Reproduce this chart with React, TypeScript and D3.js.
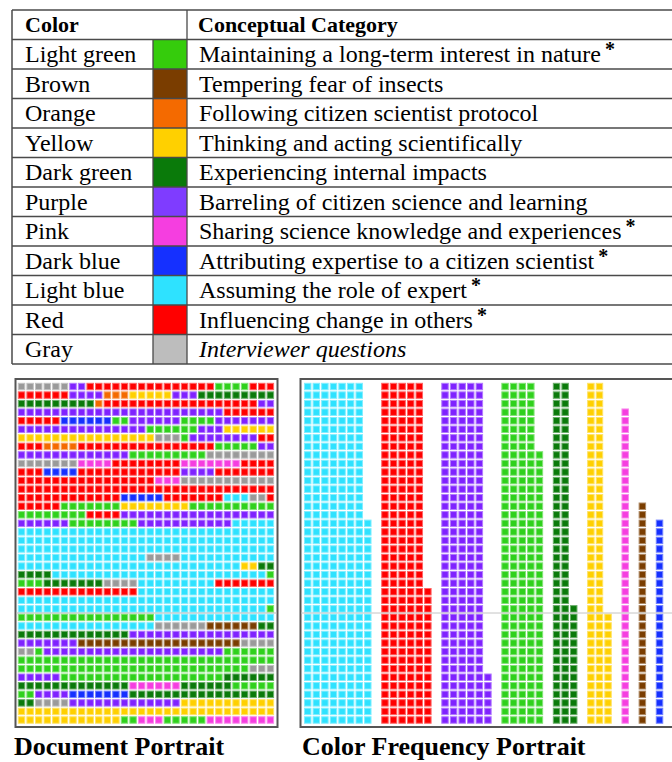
import React from 'react';
import * as d3 from 'd3';

// ---------- legend table data ----------
const colorKeys = ['G', 'B', 'O', 'Y', 'D', 'P', 'K', 'N', 'C', 'R', 'X'];
const colorNames = ['Light green', 'Brown', 'Orange', 'Yellow', 'Dark green', 'Purple', 'Pink', 'Dark blue', 'Light blue', 'Red', 'Gray'];
const categoryLabels = [
  'Maintaining a long-term interest in nature',
  'Tempering fear of insects',
  'Following citizen scientist protocol',
  'Thinking and acting scientifically',
  'Experiencing internal impacts',
  'Barreling of citizen science and learning',
  'Sharing science knowledge and experiences',
  'Attributing expertise to a citizen scientist',
  'Assuming the role of expert',
  'Influencing change in others',
  'Interviewer questions',
];
const starred = [true, false, false, false, false, false, true, true, true, true, false];
const headerLabels = ['Color', 'Conceptual Category'];
const titles = ['Document Portrait', 'Color Frequency Portrait'];

// ---------- document portrait: 40 rows x 30 cells, run-length (code+count) ----------
const docRows = [
  'X6 P2 R15 G4 R3',
  'R6 P4 O3 Y5 P3 D9',
  'D9 O1 R18 P2',
  'P24 R6',
  'R5 N6 G2 P6 G4 P7',
  'P15 G6 P3 Y6',
  'Y16 X3 G1 P8 R2',
  'R3 O4 R16 G5 P2',
  'P13 G9 X8',
  'X7 K4 R8 K7 R4',
  'R3 N4 R12 P4 R7',
  'R16 K3 X11',
  'R30',
  'R12 N5 R7 C3 X2 R1',
  'R5 G7 Y8 G10',
  'G8 R4 P18',
  'P6 G8 P11 C5',
  'C30',
  'C30',
  'C30',
  'C15 X4 C11',
  'C26 Y2 D2',
  'D4 C25 G1',
  'G3 D7 X4 C9 R7',
  'R14 C16',
  'C30',
  'C29 G1',
  'G16 C14',
  'C16 X6 B6 D2',
  'D13 P17',
  'P7 B19 X4',
  'X2 G1 P21 G6',
  'G30',
  'G27 X3',
  'P5 G19 D6',
  'D13 K6 D6 G5',
  'G2 P4 N7 D17',
  'D2 X4 P13 Y11',
  'Y30',
  'Y12 G2 K3 G5 K8',
];

// ---------- color frequency portrait ----------
const freqKeys = ['C', 'R', 'P', 'G', 'D', 'Y', 'K', 'B', 'N'];
const freqCounts = [304, 216, 206, 192, 94, 93, 37, 26, 24];

// ---------- styles ----------
const palette: Record<string, string> = {
  G: '#2fd11c',
  B: '#7a3d00',
  O: '#f46a00',
  Y: '#ffd000',
  D: '#0a7a0a',
  P: '#7f22ff',
  K: '#f53ee0',
  N: '#1530ff',
  C: '#2ee2ff',
  R: '#ff0000',
  X: '#9a9a9a',
};
const swatchPalette: Record<string, string> = { ...palette, X: '#bdbdbd', G: '#35cc0c', P: '#7f3cff' };

const W = 672;
const H = 762;
const NROWS = 40;
const NCOLS = 30;
const PITCH = 8.58;
const serif = "'Liberation Serif', 'Times New Roman', serif";

function decodeRow(s: string): string[] {
  const out: string[] = [];
  s.split(' ').forEach((tok) => {
    const k = tok[0];
    const n = parseInt(tok.slice(1), 10);
    for (let i = 0; i < n; i++) out.push(k);
  });
  return out;
}

const tint = (c: string) => d3.interpolateRgb(c, '#ffffff')(0.4);

function Cell({ x, y, k }: { x: number; y: number; k: string }) {
  const c = palette[k];
  return <rect x={x + 1} y={y + 1} width={PITCH - 2.1} height={PITCH - 2.1} fill={c} stroke={tint(c)} strokeWidth={1} />;
}

export default function App() {
  // table scales
  const rowY = d3.scaleLinear().domain([0, 12]).range([10, 364]);
  const tableLeft = 12;
  const swatchL = 153;
  const swatchR = 187;
  const tableRight = 700;

  // document portrait scales
  const dx = d3.scaleLinear().domain([0, NCOLS]).range([17.3, 17.3 + NCOLS * PITCH]);
  const dy = d3.scaleLinear().domain([0, NROWS]).range([382.3, 724.3]);
  // frequency portrait scale (column index)
  const fx = d3.scaleLinear().domain([0, 1]).range([303.5, 303.5 + PITCH]);

  const docCells: JSX.Element[] = [];
  docRows.forEach((r, ri) => {
    decodeRow(r).forEach((k, ci) => {
      docCells.push(<Cell key={`d${ri}-${ci}`} x={dx(ci)} y={dy(ri)} k={k} />);
    });
  });

  const freqCells: JSX.Element[] = [];
  let col = 0;
  freqKeys.forEach((k, gi) => {
    const n = freqCounts[gi];
    const ncols = Math.ceil(n / NROWS);
    for (let c = 0; c < ncols; c++) {
      const h = Math.min(NROWS, n - c * NROWS);
      for (let j = 0; j < h; j++) {
        const row = NROWS - 1 - j;
        freqCells.push(<Cell key={`f${gi}-${c}-${j}`} x={fx(col + c)} y={dy(row)} k={k} />);
      }
    }
    col += ncols + 1;
  });

  const lineColor = '#4a4a4a';

  return (
    <svg width={W} height={H} style={{ position: 'absolute', left: 0, top: 0, background: '#fff' }} xmlns="http://www.w3.org/2000/svg">
      <rect x={0} y={0} width={W} height={H} fill="#fff" />
      {/* ---------- table ---------- */}
      <g fontFamily={serif}>
        {colorKeys.map((k, i) => (
          <rect key={`sw${k}`} x={swatchL} y={rowY(i + 1)} width={swatchR - swatchL} height={rowY(i + 2) - rowY(i + 1)} fill={swatchPalette[k]} />
        ))}
        {d3.range(13).map((i) => (
          <line key={`h${i}`} x1={tableLeft} x2={tableRight} y1={rowY(i)} y2={rowY(i)} stroke={lineColor} strokeWidth={1.3} />
        ))}
        <line x1={tableLeft} x2={tableLeft} y1={rowY(0)} y2={rowY(12)} stroke={lineColor} strokeWidth={1.5} />
        <line x1={swatchL} x2={swatchL} y1={rowY(1)} y2={rowY(12)} stroke={lineColor} strokeWidth={1.3} />
        <line x1={swatchR} x2={swatchR} y1={rowY(0)} y2={rowY(12)} stroke={lineColor} strokeWidth={1.3} />
        <text x={25} y={rowY(0) + 22} fontSize={22} fontWeight="bold">{headerLabels[0]}</text>
        <text x={198} y={rowY(0) + 22} fontSize={22} fontWeight="bold">{headerLabels[1]}</text>
        {colorNames.map((n, i) => (
          <text key={`n${i}`} x={25} y={rowY(i + 1) + 22.5} fontSize={24}>{n}</text>
        ))}
        {categoryLabels.map((t, i) => (
          <text key={`c${i}`} x={199} y={rowY(i + 1) + 22.5} fontSize={24} fontStyle={i === 10 ? 'italic' : 'normal'}>
            {t}
            {starred[i] ? (
              <tspan dx={4} dy={-6} fontSize={20} fontWeight="bold">*</tspan>
            ) : null}
          </text>
        ))}
      </g>

      {/* ---------- document portrait ---------- */}
      <rect x={15.5} y={379} width={262} height={348} fill="#fff" stroke="#555" strokeWidth={2} />
      {docCells}
      <line x1={16} x2={277} y1={613} y2={613} stroke="#bbb" strokeWidth={1} />

      {/* ---------- color frequency portrait ---------- */}
      <rect x={300.5} y={379} width={400} height={348} fill="#fff" stroke="#555" strokeWidth={2} />
      {freqCells}
      <line x1={301} x2={672} y1={613} y2={613} stroke="#c4c4c4" strokeWidth={1} />

      <text x={14} y={755} fontFamily={serif} fontWeight="bold" fontSize={26}>{titles[0]}</text>
      <text x={302} y={755} fontFamily={serif} fontWeight="bold" fontSize={26}>{titles[1]}</text>
    </svg>
  );
}
